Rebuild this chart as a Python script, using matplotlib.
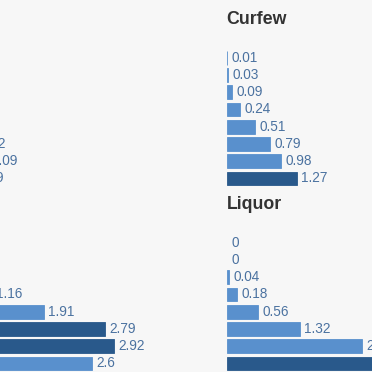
import matplotlib
matplotlib.use("Agg")
import matplotlib.pyplot as plt

plt.rcParams["font.family"] = ["Liberation Sans", "DejaVu Sans"]

# values per panel, one bar per row (top to bottom)
titles = ["Homicides", "Curfew", "Assault", "Liquor"]
homicides = [0.05, 0.14, 0.30, 0.52, 0.74, 0.92, 1.09, 0.89]
curfew = [0.01, 0.03, 0.09, 0.24, 0.51, 0.79, 0.98, 1.27]
assault = [0.12, 0.35, 0.71, 1.16, 1.91, 2.79, 2.92, 2.6]
liquor = [0, 0, 0.04, 0.18, 0.56, 1.32, 2.45, 2.9]
# rows drawn in the darker shade
highlight = [[6], [7], [5, 6], [7]]

W = H = 372
BG = "#f7f7f7"
LIGHT = "#5990cd"
DARK = "#29598b"
LABEL = "#4b72a0"
TITLE = "#333333"

fig = plt.figure(figsize=(W / 100, H / 100), dpi=100, facecolor=BG)

# panel layout in pixels: (bar start x, px per unit, first row centre y, title baseline y)
panels = [
    (-89.0, 69.5, 57.7, 24.0),
    (226.7, 55.3, 57.7, 24.0),
    (-89.0, 69.5, 242.7, 209.0),
    (226.7, 55.3, 242.7, 209.0),
]
row_h = 17.25
ax_w = 240.0

for title, vals, hl, (x0, scale, y_first, y_title) in zip(
        titles, [homicides, curfew, assault, liquor], highlight, panels):
    n = len(vals)
    top = y_first - row_h / 2
    ax = fig.add_axes([x0 / W, 1 - (top + n * row_h) / H, ax_w / W, n * row_h / H])
    ax.set_facecolor("none")
    ax.set_xlim(0, ax_w / scale)
    ax.set_ylim(n - 0.5, -0.5)
    colors = [DARK if i in hl else LIGHT for i in range(n)]
    edges = [c if v > 0 else "none" for c, v in zip(colors, vals)]
    ax.barh(range(n), vals, height=0.8, color=colors, edgecolor=edges,
            linewidth=0.6)
    for i, v in enumerate(vals):
        ax.annotate(f"{v:g}", (v, i), xytext=(3.2, 0), textcoords="offset points",
                    va="center", ha="left", fontsize=9.8, color=LABEL,
                    annotation_clip=False)
    ax.axis("off")
    fig.text(x0 / W, 1 - y_title / H, title, ha="left", va="baseline",
             fontsize=12.8, fontweight="bold", color=TITLE)

fig.savefig("out.png", dpi=100, facecolor=BG)
